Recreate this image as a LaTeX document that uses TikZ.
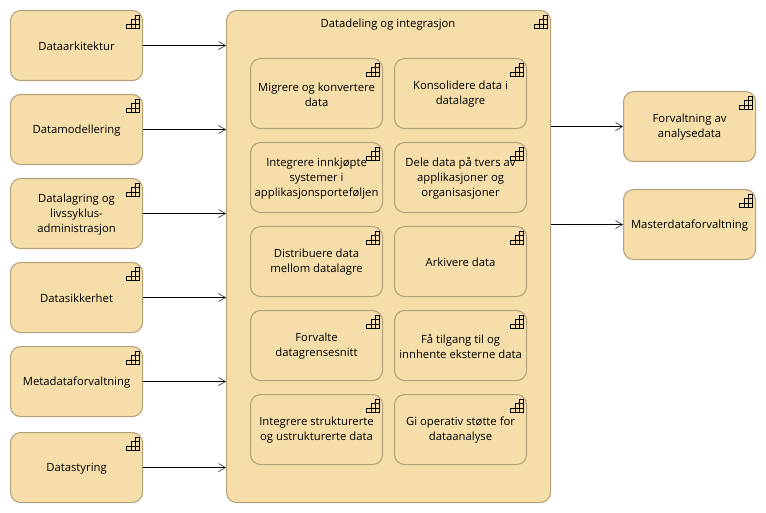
\documentclass[tikz,border=0pt]{standalone}
\usepackage{fontspec}
\setmainfont{Open Sans}
\usetikzlibrary{arrows.meta}
\definecolor{boxfill}{HTML}{F5DEAA}
\definecolor{boxline}{HTML}{B5A47A}
\tikzset{
  x=1pt,y=-1pt,
  capbox/.style={draw=boxline,fill=boxfill,line width=1.1pt,rounded corners=10pt,
    minimum width=132pt,minimum height=70pt,inner sep=1pt,anchor=north west},
  captext/.style={inner sep=0pt,align=center,font=\fontsize{11.3pt}{15pt}\selectfont},
  conn/.style={draw=black,line width=1pt,-{Straight Barb[length=7pt,width=8pt,line width=0.5pt]}},
  pics/capicon/.style={code={
    \draw[black,line width=0.9pt]
      (-16.5,18) rectangle (-3.5,14)
      (-12,14) rectangle (-3.5,9.5)
      (-8,9.5) rectangle (-3.5,5)
      (-12,18) -- (-12,14)
      (-8,18) -- (-8,9.5);
  }}
}
\newcommand{\capnode}[4]{%
  \node[capbox] (#1) at (#2,#3) {};
  \node[captext] (#1t) at ([yshift=-0.8pt]#1.center) {#4};
  \pic at (#1.north east) {capicon};
}
\begin{document}
\begin{tikzpicture}
\useasboundingbox (0,0) rectangle (766,513);
\node[capbox,minimum width=324pt,minimum height=492pt] (main) at (226,10) {};
\pic at (main.north east) {capicon};
\node[captext] (title) at (388,24.5) {Datadeling og integrasjon};
\capnode{a}{10}{10}{Dataarkitektur}
\capnode{b}{10}{94}{Datamodellering}
\capnode{c}{10}{178}{Datalagring og\\livssyklus-\\administrasjon}
\capnode{d}{10}{262}{Datasikkerhet}
\capnode{e}{10}{346}{Metadataforvaltning}
\capnode{f}{10}{432}{Datastyring}
\capnode{m1}{250}{58}{Migrere og konvertere\\data}
\capnode{m2}{394}{58}{Konsolidere data i\\datalagre}
\capnode{m3}{250}{142}{Integrere innkjøpte\\systemer i\\applikasjonsporteføljen}
\capnode{m4}{394}{142}{Dele data på tvers av\\applikasjoner og\\organisasjoner}
\capnode{m5}{250}{226}{Distribuere data\\mellom datalagre}
\capnode{m6}{394}{226}{Arkivere data}
\capnode{m7}{250}{310}{Forvalte\\datagrensesnitt}
\capnode{m8}{394}{310}{Få tilgang til og\\innhente eksterne data}
\capnode{m9}{250}{394}{Integrere strukturerte\\og ustrukturerte data}
\capnode{m10}{394}{394}{Gi operativ støtte for\\dataanalyse}
\capnode{r1}{623}{91}{Forvaltning av\\analysedata}
\capnode{r2}{623}{189}{Masterdataforvaltning}
\foreach \n in {a,b,c,d,e,f}{\draw[conn] (\n.east) -- (main.west |- \n.east);}
\foreach \n in {r1,r2}{\draw[conn] (main.east |- \n.west) -- (\n.west);}
\end{tikzpicture}
\end{document}
